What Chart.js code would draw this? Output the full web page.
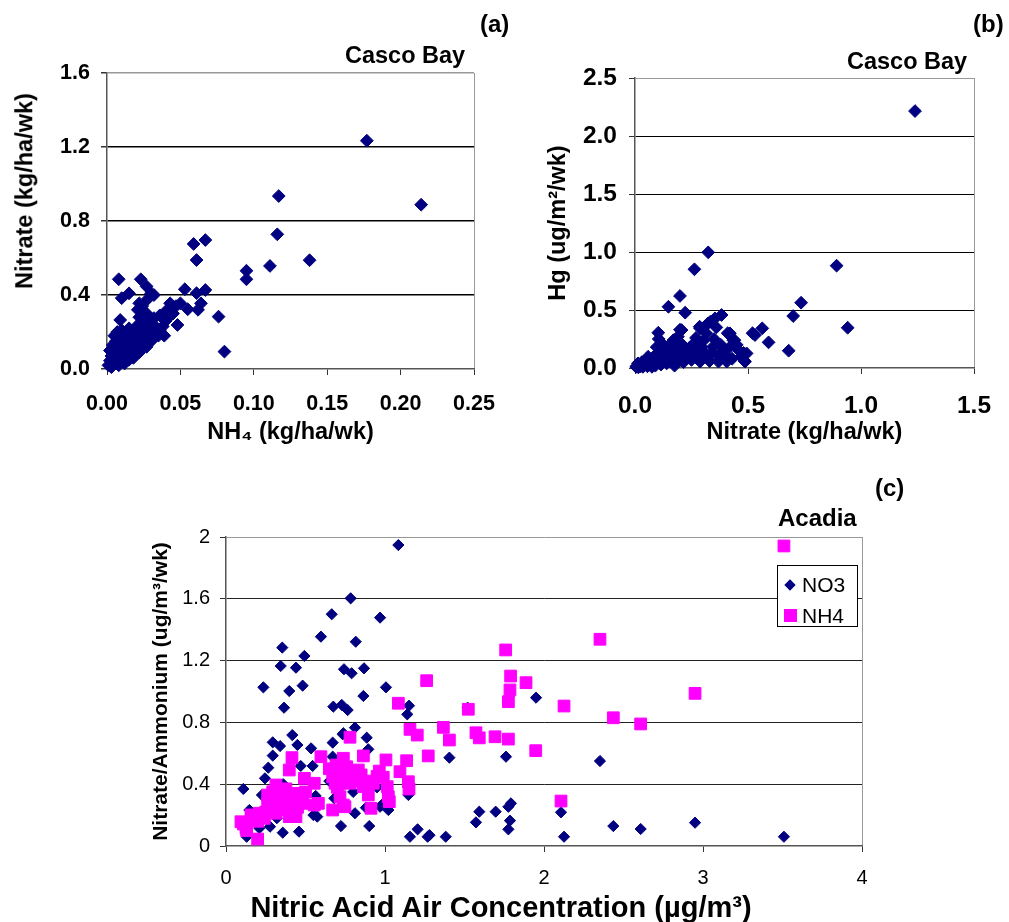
<!DOCTYPE html>
<html>
<head>
<meta charset="utf-8">
<script src="https://cdn.jsdelivr.net/npm/chart.js@4.4.1/dist/chart.umd.min.js"></script>
<style>
  body { margin: 0; background: #fff; font-family: "Liberation Sans", Arial, sans-serif; }
  #page { position: relative; width: 1009px; height: 922px; overflow: hidden; }
  .box { position: absolute; }
  .lbl { position: absolute; font-weight: bold; white-space: nowrap; line-height: 1; color: #000; }
  .rot { transform: translate(-50%, -50%) rotate(-90deg); }
  .ctr { transform: translate(-50%, -50%); }
  #legC { position: absolute; left: 777px; top: 565px; width: 79px; height: 60px; border: 1px solid #000; background: #fff; font-size: 21px; }
  #legC .row { position: absolute; left: 0; height: 24px; line-height: 24px; }
  #legC .txt { position: absolute; left: 24px; top: 0; }
  #legC .dia { position: absolute; left: 8px; top: 8px; width: 8px; height: 8px; background: #000080; transform: rotate(45deg); }
  #legC .sq { position: absolute; left: 6px; top: 5px; width: 13px; height: 13px; background: #ff00ff; }
</style>
</head>
<body>
<div id="page">
  <div class="box" style="left:0;top:0;width:500px;height:450px"><canvas id="chartA"></canvas></div>
  <div class="box" style="left:500px;top:0;width:509px;height:450px"><canvas id="chartB"></canvas></div>
  <div class="box" style="left:140px;top:470px;width:740px;height:452px"><canvas id="chartC"></canvas></div>

  <div class="lbl" style="left:480px;top:12px;font-size:24px">(a)</div>
  <div class="lbl" style="left:973px;top:12px;font-size:24px">(b)</div>
  <div class="lbl" style="left:875px;top:476px;font-size:24px">(c)</div>
  <div class="lbl" style="left:345px;top:44px;font-size:23.5px">Casco Bay</div>
  <div class="lbl" style="left:847px;top:50px;font-size:23.5px">Casco Bay</div>
  <div class="lbl" style="left:778px;top:506px;font-size:24px">Acadia</div>
  <div class="lbl rot" style="left:25px;top:191px;font-size:23.5px">Nitrate (kg/ha/wk)</div>
  <div class="lbl ctr" style="left:501px;top:907px;font-size:29px">Nitric Acid Air Concentration (µg/m³)</div>

  <div id="legC">
    <div class="row" style="top:7px"><span class="dia"></span><span class="txt">NO3</span></div>
    <div class="row" style="top:38px"><span class="sq"></span><span class="txt">NH4</span></div>
  </div>
</div>

<script>
// (a) Casco Bay: NH4 vs nitrate, kg/ha/wk
const aNh4 = [
  0.177, 0.214, 0.117, 0.116, 0.111, 0.138, 0.095, 0.095, 0.067, 0.059,
  0.061, 0.076, 0.080, 0.067, 0.061, 0.064, 0.062, 0.053, 0.055, 0.048,
  0.043, 0.050, 0.008, 0.015, 0.010, 0.023, 0.027, 0.032, 0.022, 0.021,
  0.032, 0.036, 0.041, 0.009, 0.038, 0.035, 0.039, 0.045, 0.030, 0.028,
  0.025, 0.024, 0.026, 0.029,
  0.001, 0.002, 0.002, 0.003, 0.003, 0.004, 0.004, 0.005, 0.005, 0.006,
  0.006, 0.007, 0.007, 0.008, 0.008, 0.009, 0.009, 0.010, 0.010, 0.011,
  0.012, 0.012, 0.013, 0.013, 0.014, 0.015, 0.015, 0.016, 0.017, 0.018,
  0.018, 0.019, 0.020, 0.020, 0.021, 0.022, 0.022, 0.023, 0.024, 0.024,
  0.025, 0.026, 0.027, 0.027, 0.028, 0.029, 0.030, 0.031, 0.032, 0.033,
  0.034, 0.036, 0.040, 0.042, 0.044, 0.047
];
const aNitrate = [
  1.234, 0.888, 0.935, 0.728, 0.557, 0.588, 0.531, 0.485, 0.697, 0.676,
  0.589, 0.283, 0.094, 0.427, 0.410, 0.355, 0.320, 0.431, 0.323, 0.238,
  0.355, 0.355, 0.485, 0.409, 0.383, 0.485, 0.446, 0.400, 0.355, 0.320,
  0.275, 0.290, 0.320, 0.265, 0.230, 0.180, 0.180, 0.300, 0.410, 0.380,
  0.300, 0.340, 0.255, 0.230,
  0.020, 0.045, 0.100, 0.010, 0.070, 0.130, 0.030, 0.180, 0.090, 0.050,
  0.150, 0.110, 0.200, 0.020, 0.080, 0.170, 0.130, 0.060, 0.210, 0.100,
  0.150, 0.030, 0.190, 0.080, 0.120, 0.050, 0.220, 0.160, 0.100, 0.190,
  0.060, 0.140, 0.110, 0.230, 0.170, 0.090, 0.280, 0.200, 0.130, 0.260,
  0.160, 0.220, 0.120, 0.300, 0.180, 0.260, 0.150, 0.200, 0.170, 0.230,
  0.190, 0.210, 0.260, 0.280, 0.330, 0.340
];
const aXTicks = [0, 0.05, 0.10, 0.15, 0.20, 0.25];
const aXLabels = ["0.00", "0.05", "0.10", "0.15", "0.20", "0.25"];
const aYTicks = [0, 0.4, 0.8, 1.2, 1.6];
const aYLabels = ["0.0", "0.4", "0.8", "1.2", "1.6"];

// (b) Casco Bay: nitrate vs Hg
const bNitrate = [
  1.239, 0.892, 0.941, 0.735, 0.700, 0.680, 0.591, 0.563, 0.531, 0.520,
  0.324, 0.263, 0.199, 0.148, 0.222, 0.383, 0.354, 0.334, 0.323, 0.286,
  0.420, 0.410, 0.435, 0.440, 0.494, 0.487, 0.485, 0.406, 0.369, 0.375,
  0.288, 0.259, 0.288, 0.103, 0.199, 0.206, 0.170, 0.096, 0.156, 0.346,
  0.294, 0.249, 0.160, 0.110, 0.160, 0.058, 0.013,
  0.005, 0.010, 0.015, 0.020, 0.025, 0.030, 0.035, 0.040, 0.045, 0.050,
  0.055, 0.060, 0.065, 0.070, 0.075, 0.080, 0.085, 0.090, 0.095, 0.100,
  0.105, 0.110, 0.115, 0.120, 0.125, 0.130, 0.135, 0.140, 0.150, 0.165,
  0.175, 0.180, 0.185, 0.190, 0.200, 0.210, 0.215, 0.225, 0.230, 0.240,
  0.250, 0.260, 0.270, 0.275, 0.280, 0.300, 0.305, 0.310, 0.315, 0.330,
  0.340, 0.350, 0.360, 0.370, 0.380, 0.390, 0.400, 0.420, 0.430, 0.450,
  0.460, 0.470, 0.480
];
const bHg = [
  2.215, 0.882, 0.347, 0.563, 0.448, 0.149, 0.221, 0.342, 0.284, 0.300,
  0.997, 0.851, 0.621, 0.528, 0.477, 0.457, 0.428, 0.400, 0.385, 0.356,
  0.299, 0.300, 0.240, 0.240, 0.126, 0.055, 0.060, 0.055, 0.055, 0.069,
  0.342, 0.210, 0.055, 0.304, 0.330, 0.327, 0.240, 0.180, 0.120, 0.184,
  0.184, 0.155, 0.213, 0.180, 0.100, 0.097, 0.040,
  0.010, 0.020, 0.005, 0.030, 0.015, 0.050, 0.010, 0.025, 0.060, 0.040,
  0.015, 0.070, 0.030, 0.050, 0.010, 0.090, 0.040, 0.020, 0.120, 0.060,
  0.250, 0.090, 0.030, 0.150, 0.200, 0.070, 0.110, 0.040, 0.170, 0.060,
  0.020, 0.150, 0.100, 0.270, 0.080, 0.200, 0.050, 0.130, 0.100, 0.170,
  0.070, 0.120, 0.260, 0.090, 0.200, 0.150, 0.240, 0.100, 0.300, 0.060,
  0.130, 0.250, 0.350, 0.110, 0.200, 0.150, 0.110, 0.180, 0.080, 0.200,
  0.150, 0.100, 0.130
];
const bXTicks = [0, 0.5, 1.0, 1.5];
const bXLabels = ["0.0", "0.5", "1.0", "1.5"];
const bYTicks = [0, 0.5, 1.0, 1.5, 2.0, 2.5];
const bYLabels = ["0.0", "0.5", "1.0", "1.5", "2.0", "2.5"];

// (c) Acadia: nitric acid air concentration vs nitrate / ammonium
const cNo3Air = [
  1.084, 0.784, 0.665, 0.969, 0.597, 0.816, 0.354, 0.493, 0.344, 0.440,
  0.742, 0.790, 0.868, 0.235, 0.398, 0.482, 1.006, 0.864, 0.365, 0.675,
  0.728, 0.765, 1.151, 1.140, 1.520, 1.887, 1.950, 0.109, 0.417, 0.449,
  0.294, 0.340, 0.294, 0.266, 0.245, 0.470, 0.535, 0.545, 0.671, 0.734,
  0.811, 0.885, 0.895, 0.360, 0.564, 0.574, 0.277, 0.210, 0.130, 0.357,
  0.459, 0.723, 0.811, 0.901, 0.880, 0.969, 1.021, 1.147, 1.157, 1.205,
  1.268, 1.280, 1.382, 1.405, 1.593, 1.572, 1.696, 1.761, 1.776, 1.786,
  1.776, 1.792, 2.107, 2.126, 2.352, 2.436, 2.608, 2.950, 3.509, 0.226,
  0.147, 0.681, 0.671, 0.738, 0.979, 0.300, 0.400, 0.650, 0.800, 0.750,
  0.950, 0.550, 0.320
];
const cNo3Dep = [
  1.948, 1.603, 1.500, 1.478, 1.355, 1.322, 1.284, 1.230, 1.165, 1.154,
  1.144, 1.118, 1.150, 1.027, 1.003, 1.038, 1.027, 0.971, 0.895, 0.902,
  0.913, 0.880, 0.908, 0.852, 0.895, 1.060, 0.960, 0.369, 0.718, 0.654,
  0.671, 0.647, 0.585, 0.507, 0.438, 0.518, 0.632, 0.518, 0.669, 0.723,
  0.766, 0.701, 0.626, 0.400, 0.324, 0.190, 0.125, 0.115, 0.060, 0.086,
  0.093, 0.129, 0.212, 0.129, 0.248, 0.254, 0.233, 0.330, 0.060, 0.108,
  0.060, 0.070, 0.060, 0.572, 0.222, 0.153, 0.222, 0.578, 0.108, 0.164,
  0.254, 0.276, 0.218, 0.060, 0.550, 0.129, 0.110, 0.151, 0.060, 0.330,
  0.233, 0.309, 0.578, 0.730, 0.265, 0.300, 0.250, 0.420, 0.350, 0.480,
  0.380, 0.200, 0.180
];
const cNh4Air = [
  0.109, 0.130, 0.162, 0.199, 0.094, 0.126, 0.157, 0.210, 0.241, 0.262,
  0.262, 0.294, 0.314, 0.314, 0.335, 0.346, 0.377, 0.377, 0.398, 0.398,
  0.419, 0.415, 0.440, 0.451, 0.482, 0.493, 0.555, 0.555, 0.581, 0.597,
  0.671, 0.671, 0.686, 0.692, 0.713, 0.717, 0.717, 0.738, 0.738, 0.748,
  0.759, 0.780, 0.780, 0.822, 0.832, 0.864, 0.864, 0.895, 0.912, 0.926,
  0.964, 0.989, 1.006, 1.014, 1.021, 1.027, 1.084, 1.094, 1.136, 1.147,
  1.151, 1.157, 1.203, 1.262, 1.272, 1.367, 1.405, 1.524, 1.572, 1.593,
  1.692, 1.759, 1.776, 1.776, 1.786, 1.790, 1.887, 1.948, 2.107, 2.126,
  2.352, 2.436, 2.608, 2.950, 3.509, 0.300, 0.350, 0.450, 0.500, 0.700,
  0.750, 0.800, 0.850, 0.900, 0.950, 0.650, 0.250, 0.200, 0.280
];
const cNh4Dep = [
  0.142, 0.100, 0.190, 0.045, 0.157, 0.115, 0.201, 0.212, 0.179, 0.276,
  0.330, 0.351, 0.212, 0.395, 0.276, 0.341, 0.233, 0.370, 0.190, 0.492,
  0.298, 0.572, 0.190, 0.341, 0.276, 0.438, 0.265, 0.406, 0.276, 0.578,
  0.233, 0.448, 0.406, 0.524, 0.406, 0.470, 0.319, 0.265, 0.568, 0.254,
  0.513, 0.704, 0.406, 0.448, 0.492, 0.583, 0.384, 0.330, 0.244, 0.406,
  0.485, 0.445, 0.557, 0.384, 0.319, 0.287, 0.924, 0.481, 0.552, 0.416,
  0.369, 0.755, 0.718, 1.070, 0.583, 0.768, 0.686, 0.885, 0.733, 0.700,
  0.707, 1.269, 0.692, 0.934, 1.010, 1.100, 1.057, 0.617, 0.291, 0.906,
  1.338, 0.830, 0.790, 0.988, 1.942, 0.250, 0.300, 0.250, 0.350, 0.380,
  0.450, 0.420, 0.460, 0.420, 0.450, 0.500, 0.220, 0.160, 0.300
];
const cXTicks = [0, 1, 2, 3, 4];
const cXLabels = ["0", "1", "2", "3", "4"];
const cYTicks = [0, 0.4, 0.8, 1.2, 1.6, 2];
const cYLabels = ["0", "0.4", "0.8", "1.2", "1.6", "2"];

Chart.defaults.font.family = '"Liberation Sans", Arial, sans-serif';
Chart.defaults.color = "#000";

function pts(xs, ys) {
    return xs.map((x, i) => ({ x: x, y: ys[i] }));
}

// 格線顏色: 內部黑線, 最上/最右為灰色外框
function yGrid(inner) {
    return c => c.index === 0 ? "rgba(0,0,0,0)" : (c.index === c.scale.ticks.length - 1 ? "#999" : inner);
}
function xGrid(c) {
    return c.index === c.scale.ticks.length - 1 ? "#999" : "rgba(0,0,0,0)";
}

function axis(o) {
    return {
        type: "linear",
        min: o.ticks[0],
        max: o.ticks[o.ticks.length - 1],
        afterBuildTicks: s => { s.ticks = o.ticks.map(v => ({ value: v })); },
        afterFit: s => {
            // 固定座標軸大小, 不讓刻度文字擠壓繪圖區
            if (o.width) { s.width = o.width; s.paddingTop = 0; s.paddingBottom = 0; }
            if (o.height) { s.height = o.height; s.paddingLeft = 0; s.paddingRight = 0; }
        },
        ticks: {
            autoSkip: false,
            maxRotation: 0,
            padding: o.pad,
            color: "#000",
            font: o.font,
            callback: (v, i) => o.labels[i]
        },
        grid: { color: o.grid, tickColor: "#333", tickLength: 6, lineWidth: o.lw || 1 },
        border: { color: "#555", width: 1.5 },
        title: o.title
            ? { display: true, text: o.title, color: "#000", font: o.titleFont, padding: o.titlePad }
            : { display: false }
    };
}

const titleAB = { size: 23.5, weight: "bold" };

// (a)
new Chart(document.getElementById("chartA"), {
    type: "scatter",
    data: {
        datasets: [{
            label: "Nitrate",
            data: pts(aNh4, aNitrate),
            pointStyle: "rectRot",
            radius: 6.4,
            backgroundColor: "#000080",
            borderColor: "#000080",
            borderWidth: 1,
            clip: false
        }]
    },
    options: {
        responsive: true,
        maintainAspectRatio: false,
        animation: false,
        events: [],
        layout: { padding: { left: 0, top: 73, right: 26, bottom: 0 } },
        plugins: { legend: { display: false }, tooltip: { enabled: false } },
        scales: {
            x: axis({ ticks: aXTicks, labels: aXLabels, height: 81, pad: 16, font: { size: 21.5, weight: "bold" }, grid: xGrid,
                      title: "NH₄ (kg/ha/wk)", titleFont: titleAB, titlePad: { top: 0, bottom: 3 } }),
            y: axis({ ticks: aYTicks, labels: aYLabels, width: 107, pad: 11, font: { size: 21.5, weight: "bold" }, grid: yGrid("#000"), lw: 1.5 })
        }
    }
});

// (b)
new Chart(document.getElementById("chartB"), {
    type: "scatter",
    data: {
        datasets: [{
            label: "Hg",
            data: pts(bNitrate, bHg),
            pointStyle: "rectRot",
            radius: 6.4,
            backgroundColor: "#000080",
            borderColor: "#000080",
            borderWidth: 1,
            clip: false
        }]
    },
    options: {
        responsive: true,
        maintainAspectRatio: false,
        animation: false,
        events: [],
        layout: { padding: { left: 0, top: 78, right: 35, bottom: 0 } },
        plugins: { legend: { display: false }, tooltip: { enabled: false } },
        scales: {
            x: axis({ ticks: bXTicks, labels: bXLabels, height: 82, pad: 18, font: { size: 24.5, weight: "bold" }, grid: xGrid,
                      title: "Nitrate (kg/ha/wk)", titleFont: titleAB, titlePad: { top: 0, bottom: 3 } }),
            y: axis({ ticks: bYTicks, labels: bYLabels, width: 135, pad: 12, font: { size: 24.5, weight: "bold" }, grid: yGrid("#000"),
                      title: "Hg (ug/m²/wk)", titleFont: titleAB, titlePad: { top: 44, bottom: 0 } })
        }
    }
});

// (c)
new Chart(document.getElementById("chartC"), {
    type: "scatter",
    data: {
        datasets: [{
            label: "NO3",
            data: pts(cNo3Air, cNo3Dep),
            pointStyle: "rectRot",
            radius: 5.6,
            backgroundColor: "#000080",
            borderColor: "#000080",
            borderWidth: 1,
            order: 2,
            clip: false
        }, {
            label: "NH4",
            data: pts(cNh4Air, cNh4Dep),
            pointStyle: "rect",
            radius: 8.3,
            backgroundColor: "#ff00ff",
            borderColor: "#ff00ff",
            borderWidth: 1,
            order: 1,
            clip: false
        }]
    },
    options: {
        responsive: true,
        maintainAspectRatio: false,
        animation: false,
        events: [],
        layout: { padding: { left: 0, top: 67, right: 18, bottom: 0 } },
        plugins: { legend: { display: false }, tooltip: { enabled: false } },
        scales: {
            x: axis({ ticks: cXTicks, labels: cXLabels, height: 76, pad: 14, font: { size: 20 }, grid: xGrid }),
            y: axis({ ticks: cYTicks, labels: cYLabels, width: 86, pad: 10, font: { size: 20 }, grid: yGrid("#222"),
                      title: "Nitrate/Ammonium (ug/m³/wk)", titleFont: { size: 21, weight: "bold" }, titlePad: { top: 9, bottom: 0 } })
        }
    }
});
</script>
</body>
</html>
